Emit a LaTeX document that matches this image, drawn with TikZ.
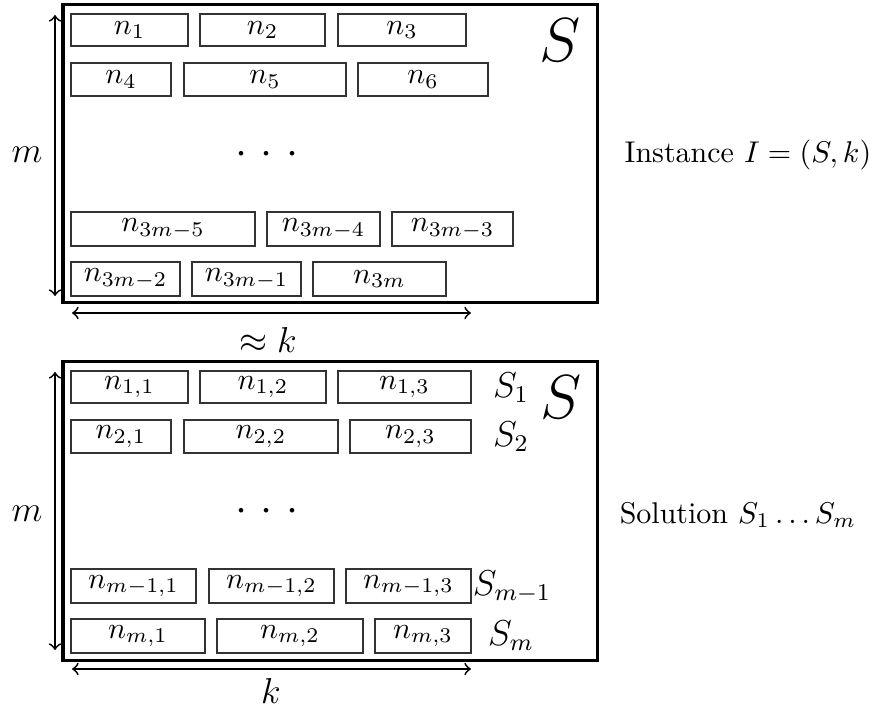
\documentclass[tikz,border=0pt]{standalone}
\usetikzlibrary{fit}
\tikzset{
  frame/.style={draw=black, line width=1pt, inner sep=0pt},
  cell/.style={draw=black!80, line width=0.4pt, inner sep=0pt},
  lbl/.style={inner sep=0pt},
  dim/.style={<->, line width=0.6pt},
}
\newcommand\cellbox[6]{%
  \node[cell, fit={(#2,#3) (#4,#5)}] (#1) {};
  \node[lbl] at (#1.center) {$#6$};}
\newcommand\threedots{\Large $\cdot$\hspace{4.5pt}$\cdot$\hspace{4.5pt}$\cdot$}
\begin{document}
\begin{tikzpicture}[x=0.3333pt, y=-0.3333pt]
\useasboundingbox (0,0) rectangle (885,713);
% ---------- top panel ----------
\node[frame, fit={(63,5) (597,303)}] (S) {};
\node[lbl] (Slab) at (560,40) {\huge $S$};
\cellbox{a1}{71}{14}{188}{46}{n_1}
\cellbox{a2}{200}{14}{325}{46}{n_2}
\cellbox{a3}{338}{14}{466}{46}{n_3}
\cellbox{a4}{71}{63}{171}{96}{n_4}
\cellbox{a5}{184}{63}{346}{96}{n_5}
\cellbox{a6}{358}{63}{488}{96}{n_6}
\node[lbl] (adots) at (267,155) {\threedots};
\cellbox{a7}{71}{212}{255}{246}{n_{3m-5}}
\cellbox{a8}{267}{212}{380}{246}{n_{3m-4}}
\cellbox{a9}{392}{212}{513}{246}{n_{3m-3}}
\cellbox{a10}{71}{262}{180}{296}{n_{3m-2}}
\cellbox{a11}{192}{262}{301}{296}{n_{3m-1}}
\cellbox{a12}{313}{262}{446}{296}{n_{3m}}
\coordinate (amtop) at (55,15);
\coordinate (ambot) at (55,296);
\draw[dim] (amtop) -- (ambot);
\node[lbl] (am) at (27,155) {\large $m$};
\coordinate (akl) at (72,313);
\coordinate (akr) at (471,313);
\draw[dim] (akl) -- (akr);
\node[lbl] (ak) at (268,340) {\large $\approx k$};
\node[lbl] (inst) at (748,155) {Instance $I=(S,k)$};
% ---------- bottom panel ----------
\node[frame, fit={(63,362) (597,661)}] (T) {};
\node[lbl] (Tlab) at (561,397) {\huge $S$};
\cellbox{b11}{71}{371}{188}{403}{n_{1,1}}
\cellbox{b12}{200}{371}{326}{403}{n_{1,2}}
\cellbox{b13}{338}{371}{471}{403}{n_{1,3}}
\cellbox{b21}{71}{420}{171}{453}{n_{2,1}}
\cellbox{b22}{184}{420}{338}{453}{n_{2,2}}
\cellbox{b23}{350}{420}{471}{453}{n_{2,3}}
\node[lbl] (bdots) at (267,512) {\threedots};
\cellbox{b31}{71}{569}{196}{603}{n_{m-1,1}}
\cellbox{b32}{209}{569}{334}{603}{n_{m-1,2}}
\cellbox{b33}{346}{569}{471}{603}{n_{m-1,3}}
\cellbox{b41}{71}{619}{205}{653}{n_{m,1}}
\cellbox{b42}{217}{619}{363}{653}{n_{m,2}}
\cellbox{b43}{375}{619}{471}{653}{n_{m,3}}
\node[lbl] (s1) at (511,388) {\large $S_1$};
\node[lbl] (s2) at (511,437) {\large $S_2$};
\node[lbl] (s3) at (512,587) {\large $S_{m-1}$};
\node[lbl] (s4) at (511,636) {\large $S_m$};
\coordinate (bmtop) at (55,372);
\coordinate (bmbot) at (55,650);
\draw[dim] (bmtop) -- (bmbot);
\node[lbl] (bm) at (27,514) {\large $m$};
\coordinate (bkl) at (72,669);
\coordinate (bkr) at (471,669);
\draw[dim] (bkl) -- (bkr);
\node[lbl] (bk) at (271,691) {\large $k$};
\node[lbl] (sol) at (738,515) {Solution $S_1\dots S_m$};
\end{tikzpicture}
\end{document}
